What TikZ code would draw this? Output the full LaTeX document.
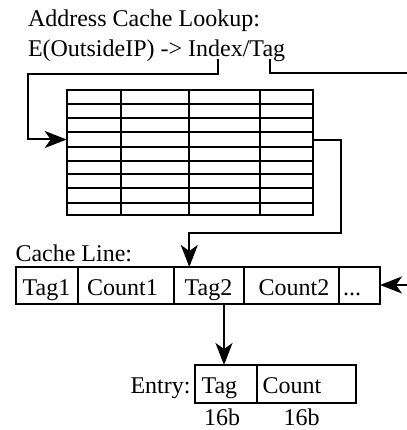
\documentclass[tikz,border=0pt]{standalone}
\usepackage{fontspec}
\setmainfont{Liberation Serif}
\newfontfamily\diagser{Liberation Serif}
\usetikzlibrary{arrows.meta}
\begin{document}
\begin{tikzpicture}[x=1pt,y=-1pt,
  every node/.style={font=\diagser\fontsize{24}{28}\selectfont, inner sep=0pt, outer sep=0pt},
  ln/.style={line width=2pt, line join=miter},
  arr/.style={ln, -{Stealth[length=22pt,width=17pt,inset=6pt]}},
  cell/.style={draw, line width=2pt, minimum height=36.5pt, anchor=north west},
  lbl/.style={anchor=base},
  lblw/.style={anchor=base west}]
\useasboundingbox (0,0) rectangle (406,430);
% header text
\node[lblw] (t1) at (28,27) {Address Cache Lookup:};
\node[lblw] (t2) at (28,57) {E(OutsideIP) -> Index/Tag};
\coordinate (idx) at (218,59);
\coordinate (tagp) at (269.5,59);
\coordinate (offr) at (420,73.5);
\coordinate (offr2) at (420,285);
% table
\node[draw, line width=2pt, minimum width=246pt, minimum height=125pt, anchor=north west] (tbl) at (66.7,90) {};
\foreach \yy in {104,118.3,132.3,146.7,160.7,174.3,188.3,203.3}
  \draw[ln] (66.7,\yy) -- (312.7,\yy);
\foreach \xx in {121,189,259.5}
  \draw[ln] (\xx,90) -- (\xx,215);
% cache line
\node[lblw] (cl) at (15.5,261.5) {Cache Line:};
\node[cell, minimum width=62pt] (c1) at (15.7,267) {};
\node[cell, minimum width=96.6pt] (c2) at (77.7,267) {};
\node[cell, minimum width=70pt] (c3) at (174.3,267) {};
\node[cell, minimum width=94.2pt] (c4) at (244.3,267) {};
\node[cell, minimum width=41.5pt] (c5) at (338.5,267) {};
\node[lbl] (l1) at (46.5,295) {Tag1};
\node[lbl] (l2) at (122.5,295) {Count1};
\node[lbl] (l3) at (208.5,295) {Tag2};
\node[lbl] (l4) at (294,295) {Count2};
\node[lblw] (l5) at (343,295) {...};
% entry
\node[anchor=base east] (en) at (190.5,393) {Entry:};
\node[draw, line width=2pt, minimum height=37.7pt, minimum width=62.3pt, anchor=north west] (e1) at (195,365) {};
\node[draw, line width=2pt, minimum height=37.7pt, minimum width=98.4pt, anchor=north west] (e2) at (257.3,365) {};
\node[lblw] (et) at (201.5,393) {Tag};
\node[lblw] (ec) at (262.5,393) {Count};
\node[lbl] (b1) at (222,425) {16b};
\node[lbl] (b2) at (301.5,425) {16b};
% connectors
\draw[arr] (idx) -- (218,74.5) -- (28.3,74.5) -- (28.3,139.5) -- (tbl.west |- 0,139.5);
\draw[ln] (tagp) -- (269.5,73.5) -- (offr);
\draw[arr] (tbl.east |- 0,140) -- (340.7,140) -- (340.7,232.7) -- (189.3,232.7) -- (189.3,267);
\draw[arr] (offr2) -- (c5.east |- offr2);
\draw[arr] (224,303.5) -- (224,365);
\end{tikzpicture}
\end{document}
